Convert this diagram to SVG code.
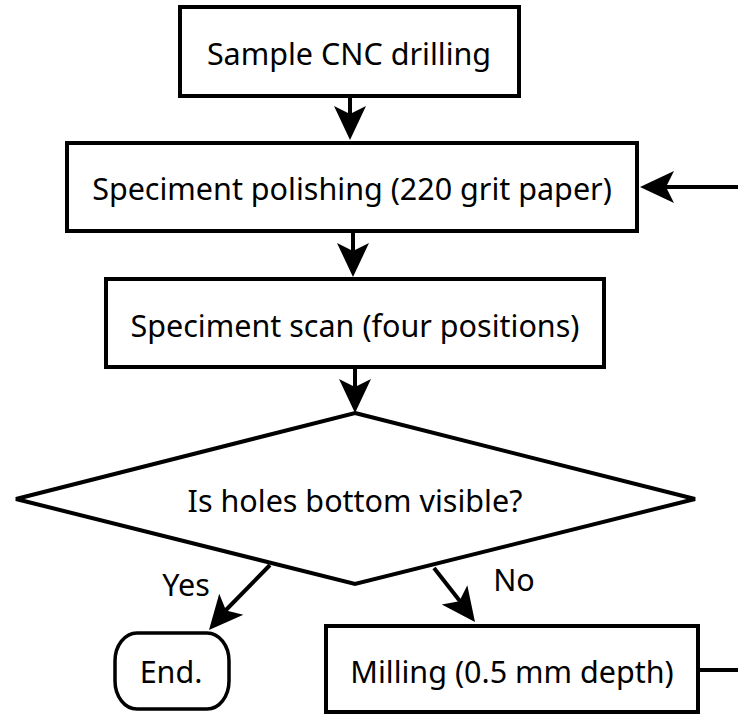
<svg xmlns="http://www.w3.org/2000/svg" width="738" height="715" viewBox="0 0 738 715">
  <style>
    .box { fill: #fff; stroke: #000; stroke-width: 4; }
    .term { fill: #fff; stroke: #000; stroke-width: 3.5; }
    .lbl { font-family: "Noto Sans", "Open Sans", sans-serif; font-size: 30.5px; fill: #000; text-anchor: middle; }
    .edge { fill: none; stroke: #000; stroke-width: 4; }
    .head { fill: #000; stroke: none; }
  </style>
  <defs>
    <!-- concave arrowhead, tip at origin, pointing along +x -->
    <path id="ah" d="M0,0 L-34,-16 L-26,0 L-34,16 Z"/>
  </defs>
  <rect width="738" height="715" fill="#fff"/>

  <g id="connectors">
    <line class="edge" x1="350" y1="98" x2="350" y2="118"/>
    <use href="#ah" class="head" transform="translate(350,140) rotate(90)"/>
    <line class="edge" x1="353" y1="233" x2="353" y2="255"/>
    <use href="#ah" class="head" transform="translate(353,277) rotate(90)"/>
    <line class="edge" x1="355" y1="369" x2="355" y2="391"/>
    <use href="#ah" class="head" transform="translate(355,413) rotate(90)"/>
    <!-- Yes branch -->
    <line class="edge" x1="270" y1="565" x2="224" y2="612"/>
    <use href="#ah" class="head" transform="translate(209,630) rotate(131)"/>
    <!-- No branch -->
    <line class="edge" x1="434" y1="568" x2="463" y2="605"/>
    <use href="#ah" class="head" transform="translate(475,622) rotate(53)"/>
    <!-- loop back from milling to polishing -->
    <line class="edge" x1="700" y1="670" x2="738" y2="670"/>
    <line class="edge" x1="738" y1="187" x2="664" y2="187"/>
    <use href="#ah" class="head" transform="translate(640,187) rotate(180)"/>
  </g>

  <g id="drilling">
    <rect class="box" x="180" y="7" width="339" height="89"/>
    <text class="lbl" x="349" y="65">Sample CNC drilling</text>
  </g>
  <g id="polishing">
    <rect class="box" x="67" y="143" width="570" height="88"/>
    <text class="lbl" x="352" y="200">Speciment polishing (220 grit paper)</text>
  </g>
  <g id="scan">
    <rect class="box" x="106" y="279" width="498" height="88"/>
    <text class="lbl" x="355" y="337">Speciment scan (four positions)</text>
  </g>
  <g id="decision">
    <polygon class="box" points="355,413 695,499 355,584 16,499"/>
    <text class="lbl" x="355" y="512">Is holes bottom visible?</text>
  </g>
  <g id="end">
    <rect class="term" x="115" y="633" width="114" height="76" rx="22" ry="28"/>
    <text class="lbl" x="171" y="683">End.</text>
  </g>
  <g id="milling">
    <rect class="box" x="326" y="626" width="372" height="86"/>
    <text class="lbl" x="512" y="683">Milling (0.5 mm depth)</text>
  </g>
  <g id="branch-labels">
    <text class="lbl" x="186" y="596">Yes</text>
    <text class="lbl" x="514" y="591">No</text>
  </g>
</svg>
